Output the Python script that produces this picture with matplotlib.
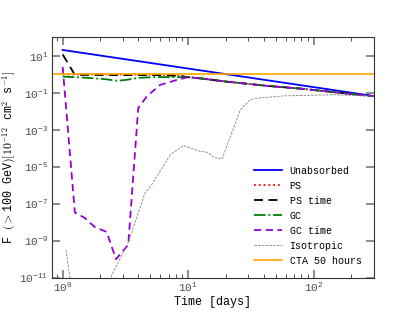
import numpy as np
import matplotlib
matplotlib.use('Agg')
import matplotlib.pyplot as plt

plt.rcParams['font.family'] = ['Liberation Mono', 'DejaVu Sans Mono']
plt.rcParams['mathtext.fontset'] = 'cm'
plt.rcParams['font.size'] = 7.5

# Unabsorbed power law
t_unabs = [1.0, 300.0]
f_unabs = [21.0, 0.068]

# common late-time decline (absorbed curves merge here)
t_late = [10.0, 12.5, 20.0, 42.5, 78.6, 145.0, 300.0]
f_late = [0.71, 0.61, 0.41, 0.24, 0.17, 0.11, 0.066]

t_ps = [1.0, 3.0, 6.0, 8.5] + t_late
f_ps = [1.0, 0.98, 0.95, 0.85] + f_late

t_pst = [1.0, 1.25, 3.0, 6.0, 8.5] + t_late
f_pst = [12.0, 0.95, 0.92, 0.92, 0.82] + f_late

t_gc = [1.0, 1.6, 2.2, 2.75, 3.3, 4.0, 5.5, 8.0] + t_late
f_gc = [0.76, 0.65, 0.55, 0.45, 0.52, 0.65, 0.72, 0.70] + f_late

t_gct = [1.0, 1.25, 1.5, 1.8, 2.24, 2.66, 3.33, 4.0, 4.67, 5.97, 8.1] + t_late
f_gct = [2.5, 3.4e-8, 1.7e-8, 5.5e-9, 3.0e-9, 1.0e-10, 6.0e-10, 1.5e-2, 6.3e-2, 0.27, 0.5] + f_late

t_iso = [1.06, 1.2, 2.3, 2.45, 3.33, 4.53, 5.12, 7.19, 9.18, 11.0, 12.5, 14.5,
         15.9, 18.6, 21.7, 23.3, 26.0, 27.6, 31.3, 35.0, 57.7, 145.0, 300.0]
f_iso = [3.2e-10, 1e-12, 1e-12, 1.3e-11, 8e-10, 3.8e-7, 1.07e-6, 4.5e-5, 1.4e-4,
         9.1e-5, 6.8e-5, 6.0e-5, 3.3e-5, 2.6e-5, 4.4e-4, 1.5e-3, 1.2e-2,
         1.8e-2, 4.2e-2, 5.1e-2, 6.9e-2, 7.9e-2, 6.6e-2]

cta_level = 1.0

fig, ax = plt.subplots(figsize=(4.15, 3.12), dpi=100)

ax.plot(t_unabs, f_unabs, color='blue', lw=1.3, label='Unabsorbed')
ax.plot(t_ps, f_ps, color='red', ls=':', lw=1.3, label='PS')
ax.plot(t_pst, f_pst, color='black', ls=(0, (5, 3)), lw=1.3, label='PS time')
ax.plot(t_gc, f_gc, color='green', ls='-.', lw=1.3, label='GC')
ax.plot(t_gct, f_gct, color='darkviolet', ls=(0, (4, 2.5)), lw=1.3, label='GC time')
ax.plot(t_iso, f_iso, color='gray', ls=(0, (3, 1.5)), lw=0.6, label='Isotropic')
ax.axhline(cta_level, color='orange', lw=1.2, label='CTA 50 hours')

ax.set_xscale('log')
ax.set_yscale('log')
ax.set_xlim(0.82, 300)
ax.set_ylim(1e-11, 1e2)
ax.set_yticks([1e1, 1e-1, 1e-3, 1e-5, 1e-7, 1e-9, 1e-11])
ax.yaxis.set_minor_locator(matplotlib.ticker.NullLocator())

ax.tick_params(which='both', direction='in', top=True, right=True)
ax.tick_params(which='major', length=6, width=1.4, color='0.55', labelcolor='0.3',
               labelsize=8, pad=2.5)
ax.tick_params(which='minor', length=3, width=0.6, color='0.2')
for s in ax.spines.values():
    s.set_linewidth(0.8)
    s.set_color('0.2')

ax.set_xlabel('Time [days]', fontsize=8.5, labelpad=1)
ax.set_ylabel(r'F $(>$100 GeV$)[10^{-12}$ cm$^2$ s$^{-1}]$', fontsize=8.5, labelpad=1)

ax.legend(loc='lower right', frameon=False, fontsize=7.2, handlelength=2.8,
          borderaxespad=0.8, labelspacing=0.5)

plt.savefig('out.png', dpi=100)
